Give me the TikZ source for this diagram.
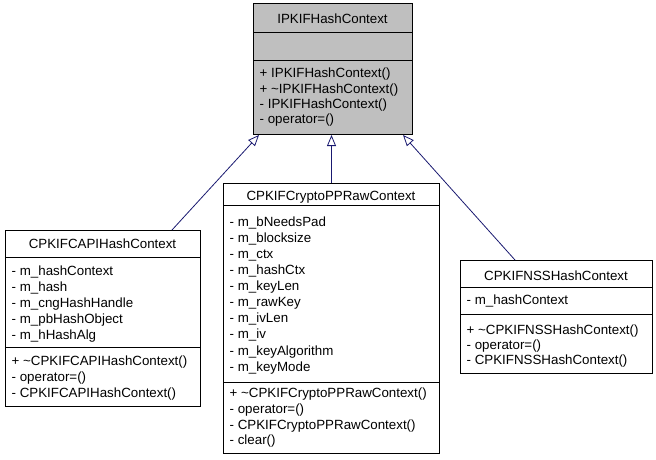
\documentclass[tikz,border=0pt]{standalone}
\usepackage{fontspec}
\setmainfont{Liberation Sans}
\usetikzlibrary{arrows.meta}
\definecolor{umlgray}{RGB}{191,191,191}
\definecolor{edgeblue}{RGB}{25,25,112}
\begin{document}
\begin{tikzpicture}[x=1pt,y=-1pt,
  box/.style={draw=black, line width=1pt, inner sep=0pt, anchor=north west},
  txt/.style={inner sep=0pt, anchor=base west, font=\fontsize{13.33}{15}\selectfont},
  ttl/.style={inner sep=0pt, anchor=base, font=\fontsize{13.33}{15}\selectfont},
  inherit/.style={draw=edgeblue, line width=0.8pt, -{Triangle[open, length=11pt, width=9pt, fill=white]}},
  sep/.style={draw=black, line width=1pt}]
\useasboundingbox (0,0) rectangle (656,459);

% base class
\node[box, fill=umlgray, minimum width=159pt, minimum height=131pt] (base) at (253,3) {};
\draw[sep] (253,32) -- (412,32);
\draw[sep] (253,60) -- (412,60);
\node[ttl] (baseT) at (332.5,23.5) {IPKIFHashContext};
\node[txt] (baseM1) at (259.5,77.5) {+ IPKIFHashContext()};
\node[txt] (baseM2) at (259.5,93) {+ \char"7E IPKIFHashContext()};
\node[txt] (baseM3) at (259.5,108) {- IPKIFHashContext()};
\node[txt] (baseM4) at (259.5,123.5) {- operator=()};

% CAPI
\node[box, fill=white, minimum width=195pt, minimum height=176pt] (capi) at (5,230) {};
\draw[sep] (5,257) -- (200,257);
\draw[sep] (5,347) -- (200,347);
\node[ttl] (capiT) at (102.5,248) {CPKIFCAPIHashContext};
\node[txt] (capiA1) at (11.5,275) {- m\_hashContext};
\node[txt] (capiA2) at (11.5,291) {- m\_hash};
\node[txt] (capiA3) at (11.5,307) {- m\_cngHashHandle};
\node[txt] (capiA4) at (11.5,323) {- m\_pbHashObject};
\node[txt] (capiA5) at (11.5,339) {- m\_hHashAlg};
\node[txt] (capiM1) at (11.5,365) {+ \char"7E CPKIFCAPIHashContext()};
\node[txt] (capiM2) at (11.5,381) {- operator=()};
\node[txt] (capiM3) at (11.5,397) {- CPKIFCAPIHashContext()};

% CryptoPP
\node[box, fill=white, minimum width=216pt, minimum height=270pt] (raw) at (223,183) {};
\draw[sep] (223,205) -- (439,205);
\draw[sep] (223,382) -- (439,382);
\node[ttl] (rawT) at (331,200.5) {CPKIFCryptoPPRawContext};
\node[txt] (rawA1) at (229.5,226.5) {- m\_bNeedsPad};
\node[txt] (rawA2) at (229.5,242.5) {- m\_blocksize};
\node[txt] (rawA3) at (229.5,258.5) {- m\_ctx};
\node[txt] (rawA4) at (229.5,274.5) {- m\_hashCtx};
\node[txt] (rawA5) at (229.5,290.5) {- m\_keyLen};
\node[txt] (rawA6) at (229.5,306.5) {- m\_rawKey};
\node[txt] (rawA7) at (229.5,322.5) {- m\_ivLen};
\node[txt] (rawA8) at (229.5,338.5) {- m\_iv};
\node[txt] (rawA9) at (229.5,355) {- m\_keyAlgorithm};
\node[txt] (rawA10) at (229.5,371) {- m\_keyMode};
\node[txt] (rawM1) at (229.5,397) {+ \char"7E CPKIFCryptoPPRawContext()};
\node[txt] (rawM2) at (229.5,413) {- operator=()};
\node[txt] (rawM3) at (229.5,429) {- CPKIFCryptoPPRawContext()};
\node[txt] (rawM4) at (229.5,444.5) {- clear()};

% NSS
\node[box, fill=white, minimum width=192pt, minimum height=113pt] (nss) at (460,260) {};
\draw[sep] (460,287) -- (652,287);
\draw[sep] (460,314) -- (652,314);
\node[ttl] (nssT) at (556,280) {CPKIFNSSHashContext};
\node[txt] (nssA1) at (466.5,304) {- m\_hashContext};
\node[txt] (nssM1) at (466.5,334) {+ \char"7E CPKIFNSSHashContext()};
\node[txt] (nssM2) at (466.5,349) {- operator=()};
\node[txt] (nssM3) at (466.5,364) {- CPKIFNSSHashContext()};

% inheritance
\draw[inherit] ([xshift=167pt]capi.north west) -- ([xshift=6pt]base.south west);
\draw[inherit] (raw.north) -- (raw.north |- base.south);
\draw[inherit] ([xshift=55pt]nss.north west) -- ([xshift=-10pt]base.south east);
\end{tikzpicture}
\end{document}
